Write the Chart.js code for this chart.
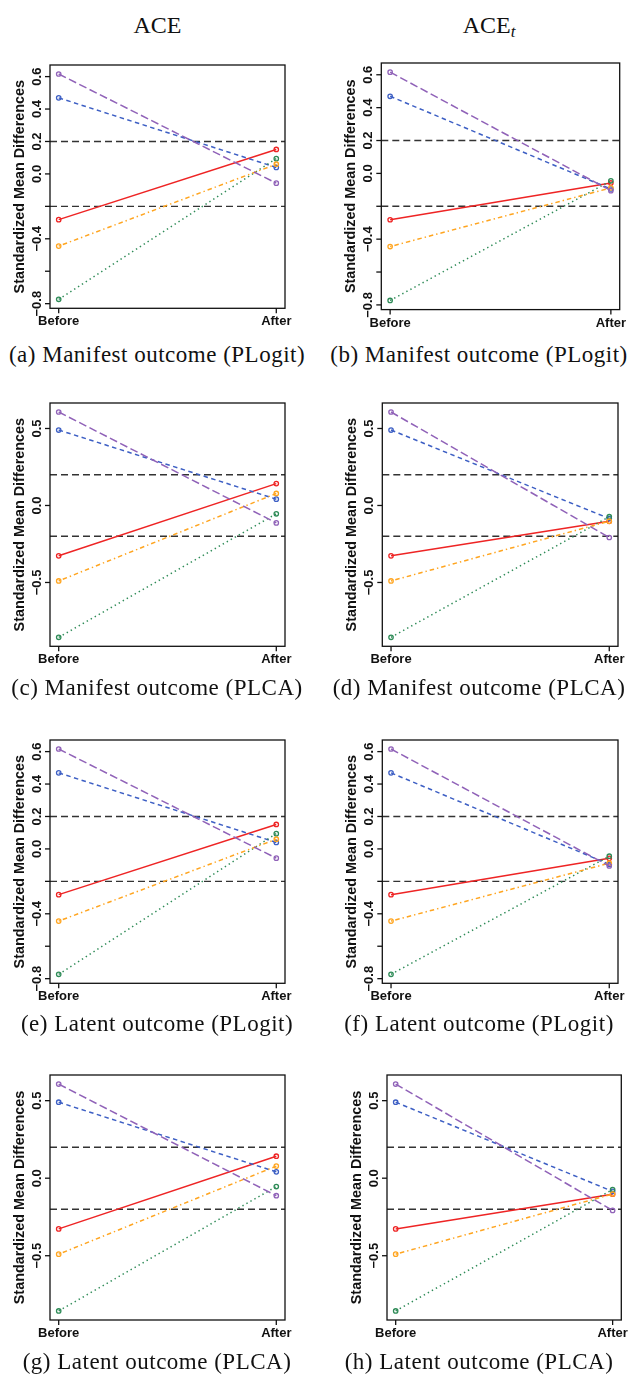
<!DOCTYPE html>
<html>
<head>
<meta charset="utf-8">
<script src="https://cdn.jsdelivr.net/npm/chart.js@4.4.1/dist/chart.umd.min.js"></script>
<style>
  body { margin: 0; background: #fff; width: 638px; height: 1378px; position: relative; overflow: hidden; }
  canvas { position: absolute; }
  .txt { position: absolute; font-family: "Liberation Serif", "Times New Roman", serif; color: #111;
         white-space: nowrap; line-height: 1; transform: translateX(-50%); }
  .head { font-size: 24px; }
  .cap { font-size: 23px; letter-spacing: 0.5px; }
  .sub { font-size: 17px; font-style: italic; position: relative; top: 4px; }
</style>
</head>
<body>
<div class="txt head" style="left:157.5px; top:12.6px">ACE</div>
<div class="txt head" style="left:489px; top:12.6px">ACE<span class="sub">t</span></div>

<script>
// standardized mean differences of the five covariates, [Before, After]
// series order: 1 solid red, 2 dashed blue, 3 dotted green, 4 dotdash orange, 5 longdash purple
const phases = ['Before', 'After'];
const phaseX = [1, 2];
const plogitBefore    = [-0.282, 0.469, -0.773, -0.445, 0.616];
const plogitAceAfter  = [ 0.151, 0.040,  0.094,  0.060, -0.057];
const plogitAceTAfter = [-0.058, -0.095, -0.045, -0.088, -0.105];
const plcaBefore      = [-0.327, 0.490, -0.856, -0.490, 0.607];
const plcaAceAfter    = [ 0.142, 0.041, -0.054,  0.078, -0.113];
const plcaAceTAfter   = [-0.103, -0.085, -0.073, -0.102, -0.208];

// balance thresholds
const thresholds = [0.2, -0.2];

// y axis ticks (R drops the labels that would overlap)
const plogitYTicks  = [-0.8, -0.6, -0.4, -0.2, 0, 0.2, 0.4, 0.6];
const plogitYLabels = ['\u22120.8', '', '\u22120.4', '', '0.0', '0.2', '0.4', '0.6'];
const plcaYTicks    = [-0.5, 0, 0.5];
const plcaYLabels   = ['\u22120.5', '0.0', '0.5'];

const lineColors = ['#EE2424', '#3D5FC4', '#2E8B57', '#FFA520', '#9062B8'];
const lineDashes = [[], [4.5, 3.5], [1.4, 3.2], [1.4, 3, 4.5, 3], [8, 3.5]];

const panels = [
  { box: [50, 65, 285, 308.3],       before: plogitBefore, after: plogitAceAfter,  yTicks: plogitYTicks, yLabels: plogitYLabels, caption: '(a) Manifest outcome (PLogit)', capY: 362.3, col: 0 },
  { box: [381.3, 62.7, 619.7, 309.3], before: plogitBefore, after: plogitAceTAfter, yTicks: plogitYTicks, yLabels: plogitYLabels, caption: '(b) Manifest outcome (PLogit)', capY: 362.3, col: 1 },
  { box: [50, 402.7, 285, 646],       before: plcaBefore,   after: plcaAceAfter,    yTicks: plcaYTicks,   yLabels: plcaYLabels,   caption: '(c) Manifest outcome (PLCA)',   capY: 695.5, col: 0 },
  { box: [382.3, 402.7, 618, 646],    before: plcaBefore,   after: plcaAceTAfter,   yTicks: plcaYTicks,   yLabels: plcaYLabels,   caption: '(d) Manifest outcome (PLCA)',   capY: 695.5, col: 1 },
  { box: [50, 740, 285, 983.3],       before: plogitBefore, after: plogitAceAfter,  yTicks: plogitYTicks, yLabels: plogitYLabels, caption: '(e) Latent outcome (PLogit)',   capY: 1031, col: 0 },
  { box: [382.3, 740, 618, 983.3],    before: plogitBefore, after: plogitAceTAfter, yTicks: plogitYTicks, yLabels: plogitYLabels, caption: '(f) Latent outcome (PLogit)',   capY: 1031, col: 1 },
  { box: [50, 1075, 285, 1320],       before: plcaBefore,   after: plcaAceAfter,    yTicks: plcaYTicks,   yLabels: plcaYLabels,   caption: '(g) Latent outcome (PLCA)',     capY: 1369, col: 0 },
  { box: [387, 1075, 621.3, 1320],    before: plcaBefore,   after: plcaAceTAfter,   yTicks: plcaYTicks,   yLabels: plcaYLabels,   caption: '(h) Latent outcome (PLCA)',     capY: 1369, col: 1 }
];

const colLeft = [0, 319];
const colWidth = 319;
const capCenter = [157, 479];
const axisFont = 'bold 13px "Liberation Sans", Arial, sans-serif';
const titleFont = 'bold 14.4px "Liberation Sans", Arial, sans-serif';

// base-R style frame: box, ticks, rotated y labels
const rFrame = {
  id: 'rFrame',
  afterDatasetsDraw(chart, args, opts) {
    const ctx = chart.ctx;
    const a = chart.chartArea;
    const x = chart.scales.x, y = chart.scales.y;
    ctx.save();
    ctx.strokeStyle = '#111';
    ctx.fillStyle = '#111';
    ctx.lineWidth = 1.3;
    ctx.strokeRect(a.left, a.top, a.right - a.left, a.bottom - a.top);

    ctx.font = axisFont;
    ctx.textAlign = 'center';
    ctx.textBaseline = 'alphabetic';
    opts.yTicks.forEach(function(v, i) {
      const py = y.getPixelForValue(v);
      ctx.beginPath();
      ctx.moveTo(a.left, py);
      ctx.lineTo(a.left - 5, py);
      ctx.stroke();
      if (opts.yLabels[i]) {
        ctx.save();
        ctx.translate(a.left - 9.5, py);
        ctx.rotate(-Math.PI / 2);
        ctx.fillText(opts.yLabels[i], 0, 0);
        ctx.restore();
      }
    });

    phaseX.forEach(function(v, i) {
      const px = x.getPixelForValue(v);
      ctx.beginPath();
      ctx.moveTo(px, a.bottom);
      ctx.lineTo(px, a.bottom + 5);
      ctx.stroke();
      ctx.fillText(phases[i], px, a.bottom + 17);
    });

    ctx.font = titleFont;
    ctx.translate(a.left - 26, (a.top + a.bottom) / 2);
    ctx.rotate(-Math.PI / 2);
    ctx.fillText('Standardized Mean Differences', 0, 0);
    ctx.restore();
  }
};

panels.forEach(function(p) {
  const [l, t, r, b] = p.box;
  const left = colLeft[p.col];
  const padTop = 12, padBottom = 32;

  const canvas = document.createElement('canvas');
  canvas.width = colWidth;
  canvas.height = Math.ceil(b - t + padTop + padBottom);
  canvas.style.left = left + 'px';
  canvas.style.top = (t - padTop) + 'px';
  document.body.appendChild(canvas);

  const cap = document.createElement('div');
  cap.className = 'txt cap';
  cap.textContent = p.caption;
  cap.style.left = capCenter[p.col] + 'px';
  cap.style.top = (p.capY - 19.26) + 'px';
  document.body.appendChild(cap);

  // R's default 4% axis extension
  const all = p.before.concat(p.after);
  const lo = Math.min.apply(null, all), hi = Math.max.apply(null, all);
  const ext = 0.04 * (hi - lo);
  const xMin = phaseX[0] - 0.04 * (phaseX[1] - phaseX[0]);
  const xMax = phaseX[1] + 0.04 * (phaseX[1] - phaseX[0]);

  const datasets = p.before.map(function(v, i) {
    return {
      data: [{ x: phaseX[0], y: v }, { x: phaseX[1], y: p.after[i] }],
      borderColor: lineColors[i],
      borderWidth: 1.5,
      borderDash: lineDashes[i],
      borderCapStyle: 'butt',
      pointRadius: 2.2,
      pointBorderWidth: 1.3,
      pointBorderColor: lineColors[i],
      pointBackgroundColor: 'rgba(255,255,255,0)',
      order: 10 - i
    };
  });
  thresholds.forEach(function(h) {
    datasets.push({
      data: [{ x: xMin, y: h }, { x: xMax, y: h }],
      borderColor: '#333',
      borderWidth: 1.4,
      borderDash: [7, 4],
      pointRadius: 0,
      order: 20
    });
  });

  new Chart(canvas, {
    type: 'line',
    data: { datasets: datasets },
    options: {
      responsive: false,
      devicePixelRatio: 1,
      animation: false,
      events: [],
      layout: {
        autoPadding: false,
        padding: { left: l - left, top: padTop, right: left + colWidth - r, bottom: canvas.height - padTop - (b - t) }
      },
      plugins: {
        legend: { display: false },
        tooltip: { enabled: false },
        rFrame: { yTicks: p.yTicks, yLabels: p.yLabels }
      },
      scales: {
        x: { type: 'linear', display: false, min: xMin, max: xMax },
        y: { type: 'linear', display: false, min: lo - ext, max: hi + ext }
      }
    },
    plugins: [rFrame]
  });
});
</script>
</body>
</html>
